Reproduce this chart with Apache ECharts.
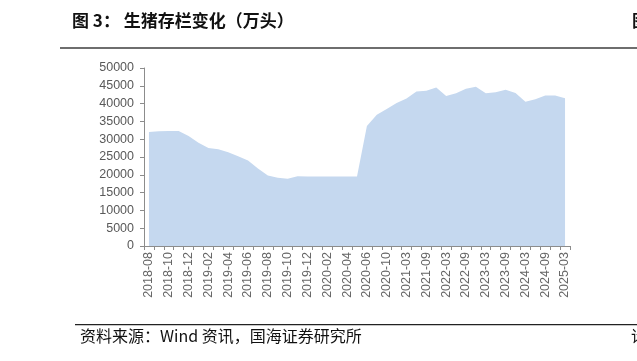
<!DOCTYPE html>
<html><head><meta charset="utf-8">
<script src="https://cdn.jsdelivr.net/npm/echarts@6/dist/echarts.min.js"></script>
<style>html,body{margin:0;padding:0;background:#fff}#c{width:637px;height:361px}</style>
</head><body><div id="c"></div>
<script>
var categories = ['2018-08','2018-09','2018-10','2018-11','2018-12','2019-01','2019-02','2019-03','2019-04','2019-05','2019-06','2019-07','2019-08','2019-09','2019-10','2019-11','2019-12','2020-01','2020-02','2020-03','2020-04','2020-05','2020-06','2020-08','2020-10','2020-12','2021-03','2021-06','2021-09','2021-12','2022-03','2022-06','2022-09','2022-12','2023-03','2023-06','2023-09','2023-12','2024-03','2024-06','2024-09','2024-12','2025-03'];
var hogInventory = [32000,32200,32300,32300,30900,29000,27500,27200,26300,25200,24000,21800,19800,19200,18900,19600,19500,19500,19500,19500,19500,19500,33700,36900,38500,40200,41400,43400,43600,44500,42100,42900,44200,44700,42900,43200,43900,43000,40500,41200,42300,42300,41500];
var yTicks = {min:0, max:50000, interval:5000};
var titleText = '图 3： 生猪存栏变化（万头）';
var sourceText = '资料来源：Wind 资讯，国海证券研究所';

var chart = echarts.init(document.getElementById('c'), null, {renderer:'canvas'});
chart.setOption({
  animation:false,
  backgroundColor:'#fff',
  grid:{left:144, right:67, top:68, bottom:115},
  xAxis:{
    type:'category', data:categories, boundaryGap:true,
    axisLine:{lineStyle:{color:'#8c8c8c', width:1}},
    axisTick:{show:true, interval:0, length:4, lineStyle:{color:'#8c8c8c'}},
    axisLabel:{interval:1, rotate:90, color:'#666', fontSize:12.5, fontFamily:'Liberation Sans, Arial', margin:6}
  },
  yAxis:{
    type:'value', min:yTicks.min, max:yTicks.max, interval:yTicks.interval,
    axisLine:{show:true, lineStyle:{color:'#8c8c8c'}},
    axisTick:{show:true, length:4, lineStyle:{color:'#8c8c8c'}},
    splitLine:{show:false},
    axisLabel:{color:'#595959', fontSize:12.5, fontFamily:'Liberation Sans, Arial', margin:10, formatter:function(v){return String(v);}}
  },
  series:[{
    type:'line', data:hogInventory, symbol:'none',
    lineStyle:{width:0, color:'#c5d8ef'},
    areaStyle:{color:'#c5d8ef', opacity:1}
  }],
  graphic:[
    {type:'text', left:72, top:12, style:{text:titleText, font:'bold 17px "Noto Sans CJK SC", sans-serif', fill:'#111'}},
    {type:'rect', shape:{x:60, y:47, width:577, height:2}, style:{fill:'#6e6e6e'}},
    {type:'text', left:632, top:12, style:{text:'图', font:'bold 17px "Noto Sans CJK SC", sans-serif', fill:'#111'}},
    {type:'rect', shape:{x:75, y:324, width:562, height:1.2}, style:{fill:'#222'}},
    {type:'text', left:80, top:328, style:{text:sourceText, font:'16px "Noto Sans CJK SC", sans-serif', fill:'#111'}},
    {type:'text', left:631, top:328, style:{text:'请', font:'16px "Noto Sans CJK SC", sans-serif', fill:'#111'}}
  ]
});
</script></body></html>
